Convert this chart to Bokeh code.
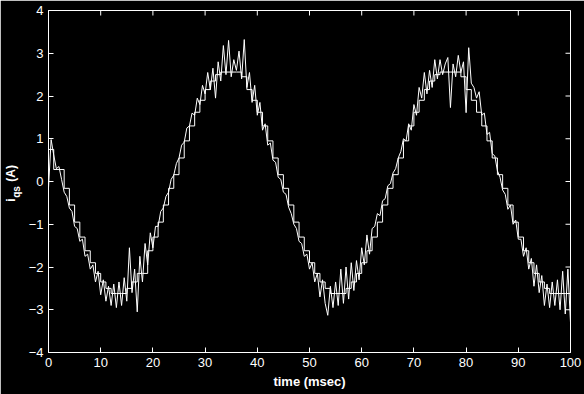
import numpy as np
from bokeh.plotting import figure
from bokeh.models import Range1d, FixedTicker, Label
from bokeh.embed import file_html
from bokeh.resources import INLINE

# ---- data -------------------------------------------------------------
x_ticks = [0, 10, 20, 30, 40, 50, 60, 70, 80, 90, 100]
y_ticks = [-4, -3, -2, -1, 0, 1, 2, 3, 4]

# staircase (filtered / reference) current, one value per msec
t_stair = list(range(0, 101))
i_stair = [
    0.75, 0.28, 0.28, -0.16, -0.55, -0.95, -1.30, -1.62, -1.90, -2.15,
    -2.35, -2.50, -2.62, -2.62, -2.62, -2.50, -2.35, -2.15, -2.15, -1.62,
    -1.30, -0.95, -0.55, -0.16, 0.16, 0.55, 0.95, 1.30, 1.62, 1.90,
    2.15, 2.35, 2.50, 2.56, 2.56, 2.56, 2.56, 2.45, 2.15, 1.90,
    1.62, 1.30, 0.95, 0.55, 0.16, -0.16, -0.55, -0.95, -1.30, -1.62,
    -1.90, -2.15, -2.35, -2.50, -2.62, -2.62, -2.62, -2.50, -2.35, -2.15,
    -1.90, -1.62, -1.30, -0.95, -0.55, -0.16, 0.16, 0.55, 0.95, 1.30,
    1.62, 1.90, 2.15, 2.35, 2.50, 2.56, 2.56, 2.56, 2.56, 2.45,
    2.15, 1.90, 1.62, 1.30, 0.95, 0.55, 0.16, -0.16, -0.55, -0.95,
    -1.30, -1.62, -1.90, -2.15, -2.35, -2.50, -2.62, -2.62, -2.62, -2.62,
    -2.62,
]

# measured (noisy) current, one value per 0.5 msec
t_meas = [k * 0.5 for k in range(201)]
i_meas = [
    # 0 .. 21.5
    -0.15, 0.98, 0.62, 0.30, 0.35, 0.05, -0.25, -0.35, -0.62, -0.70,
    -1.05, -1.10, -1.40, -1.35, -1.75, -1.70, -2.05, -1.95, -2.35, -2.10,
    -2.65, -2.30, -2.80, -2.45, -2.90, -2.40, -2.95, -2.35, -2.90, -2.25,
    -2.80, -1.55, -2.60, -2.05, -3.05, -1.75, -2.35, -1.45, -1.95, -1.20,
    -1.55, -1.05, -1.05, -0.70,
    # 22 .. 44.5
    -0.62, -0.35, -0.25, 0.05, 0.15, 0.42, 0.55, 0.85, 0.92, 1.25,
    1.30, 1.60, 1.55, 1.95, 1.80, 2.25, 2.05, 2.55, 2.15, 2.65,
    1.95, 2.80, 2.35, 3.18, 2.50, 3.30, 2.45, 2.85, 2.60, 3.05,
    2.40, 3.32, 2.20, 2.55, 1.85, 2.25, 1.55, 1.85, 1.20, 1.35,
    0.85, 0.90, 0.50, 0.45, 0.10, 0.05,
    # 45 .. 65.5
    -0.25, -0.30, -0.60, -0.75, -1.00, -1.10, -1.40, -1.45, -1.75, -1.70,
    -2.05, -1.90, -2.35, -2.15, -2.70, -2.30, -2.85, -3.13, -2.45, -2.95,
    -2.35, -2.90, -2.05, -2.85, -2.00, -2.75, -1.90, -2.55, -1.85, -2.30,
    -1.55, -1.95, -1.25, -1.70, -1.10, -1.05, -0.75, -0.80, -0.45, -0.40,
    -0.10, -0.05,
    # 66 .. 86.5
    0.20, 0.30, 0.55, 0.70, 1.00, 0.95, 1.35, 1.20, 1.80, 1.55,
    2.20, 1.95, 2.55, 2.05, 2.60, 2.20, 2.85, 2.40, 2.85, 2.50,
    2.75, 2.90, 1.73, 2.75, 2.45, 2.95, 2.55, 2.80, 1.61, 3.13,
    2.30, 2.20, 1.95, 2.10, 1.55, 1.60, 1.10, 1.15, 0.65, 0.60,
    0.25, 0.10,
    # 87 .. 100
    -0.20, -0.30, -0.65, -0.55, -1.00, -0.90, -1.35, -1.35, -1.75, -1.55,
    -2.05, -1.80, -2.45, -1.95, -2.60, -2.20, -2.90, -2.40, -2.95, -2.35,
    -2.90, -2.30, -3.00, -2.10, -3.10, -2.05, -3.30,
]

# ---- figure -----------------------------------------------------------
W, H = 584, 394
L, R, T, B = 48, 14, 10, 42

p = figure(width=W, height=H, output_backend="svg", toolbar_location=None,
           x_range=Range1d(0, 100), y_range=Range1d(-4, 4),
           background_fill_color="black", border_fill_color="black",
           min_border_left=L, min_border_right=R, min_border_top=T,
           min_border_bottom=B, x_axis_label="time (msec)")
p.outline_line_color = "white"
p.outline_line_width = 1
p.grid.visible = False

FONT = "Liberation Sans"

for ax in (p.xaxis[0], p.yaxis[0]):
    ax.major_tick_in = 5
    ax.major_tick_out = 0
    ax.minor_tick_line_color = None
    ax.axis_line_color = "white"
    ax.major_tick_line_color = "white"
    ax.major_label_text_color = "white"
    ax.major_label_text_font = FONT
    ax.major_label_text_font_size = "13px"

p.xaxis[0].ticker = FixedTicker(ticks=x_ticks, minor_ticks=[])
p.yaxis[0].ticker = FixedTicker(ticks=y_ticks, minor_ticks=[])
p.xaxis[0].major_label_standoff = 5
p.yaxis[0].major_label_standoff = 5
p.xaxis[0].axis_label_text_color = "white"
p.xaxis[0].axis_label_text_font = FONT
p.xaxis[0].axis_label_text_font_style = "bold"
p.xaxis[0].axis_label_text_font_size = "13px"
p.xaxis[0].axis_label_standoff = 4

# inward ticks on the top and right edges of the box (5 px long)
p.ray(x=x_ticks, y=[y_ticks[-1]] * len(x_ticks), length=5,
      length_units="screen", angle=-np.pi / 2, line_color="white",
      line_width=1)
p.ray(x=[x_ticks[-1]] * len(y_ticks), y=y_ticks, length=5,
      length_units="screen", angle=np.pi, line_color="white", line_width=1)

p.step(t_stair, i_stair, mode="after", line_color="white", line_width=1)
p.line(t_meas, i_meas, line_color="white", line_width=1)

# y-axis label  i_qs (A): rotated labels placed in side panels (so they are
# not clipped to the frame); positions given in pixel -> data coordinates
frame_w = W - L - R
frame_h = H - T - B


def px_to_data(px, py):
    return ((px - L) / frame_w * 100.0, 4 - (py - T) / frame_h * 8.0)


NB = "\u00a0"
for txt, (px, py), size, side in (("i" + NB * 5 + "(A)", (10.8, 182.8), "12px", "left"),
                                  ("qs", (16.3, 191.5), "10px", "right")):
    dx, dy = px_to_data(px, py)
    p.add_layout(Label(x=dx, y=dy, text=txt, angle=90, angle_units="deg",
                       text_align="center", text_baseline="middle",
                       text_color="white", text_font=FONT,
                       text_font_style="bold", text_font_size=size), side)

html = file_html(p, INLINE)
html = html.replace("<body>", '<body style="margin:0;background:#000000;">', 1)
open("out.html", "w").write(html)
